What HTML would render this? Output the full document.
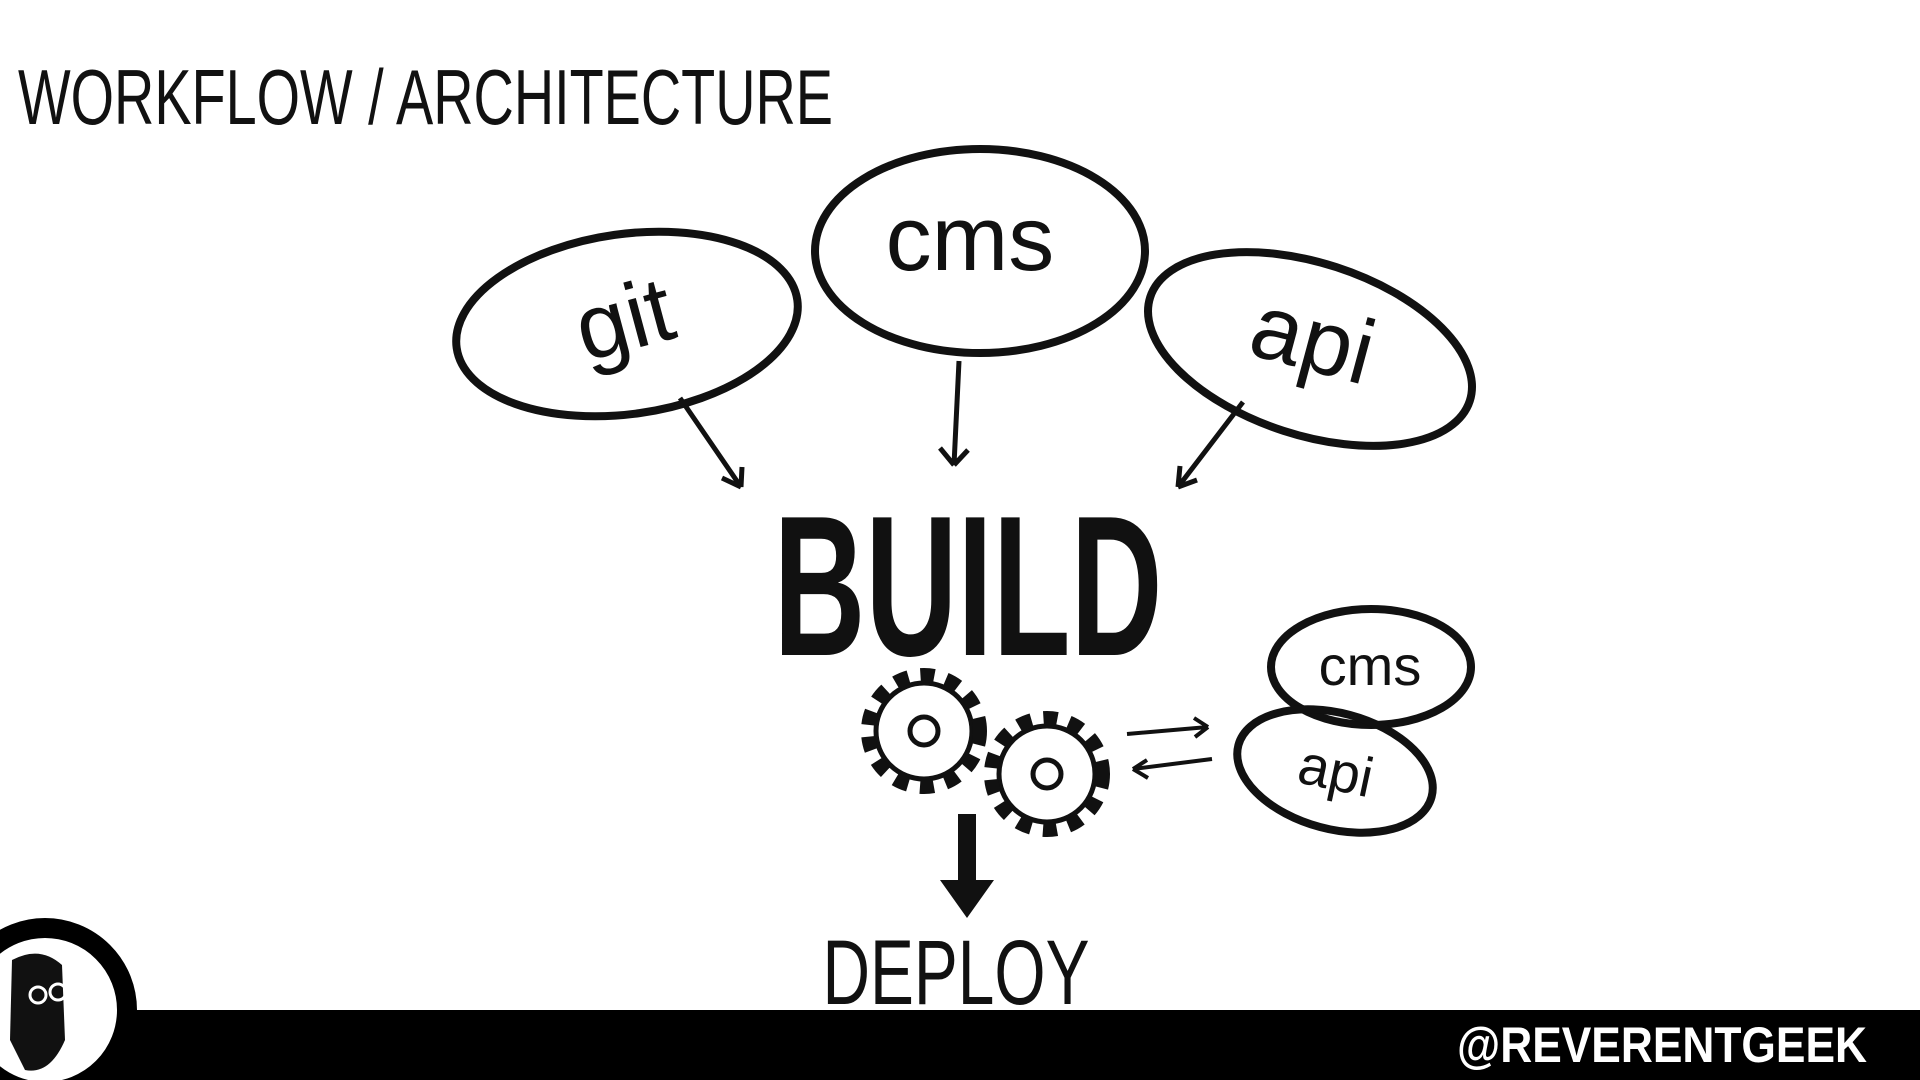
<!DOCTYPE html>
<html><head><style>
html,body{margin:0;padding:0;background:#fff;}
svg{display:block;}
text{font-family:"Liberation Sans",sans-serif;}
</style></head><body>
<svg width="1920" height="1080" viewBox="0 0 1920 1080" xmlns="http://www.w3.org/2000/svg">
<text x="18" y="124" font-size="78" fill="#111" textLength="815" lengthAdjust="spacingAndGlyphs">WORKFLOW / ARCHITECTURE</text>

<g fill="none" stroke="#111" stroke-width="8">
<ellipse cx="627" cy="324" rx="172" ry="90" transform="rotate(-8 627 324)"/>
<ellipse cx="980" cy="251" rx="165" ry="102"/>
<ellipse cx="1310" cy="349" rx="168" ry="86" transform="rotate(18 1310 349)"/>
<ellipse cx="1371" cy="667" rx="100" ry="58"/>
<ellipse cx="1335" cy="771" rx="100" ry="58" transform="rotate(15 1335 771)"/>
</g>
<text x="627" y="350" font-size="92" text-anchor="middle" fill="#111" transform="rotate(-15 627 330)">git</text>
<text x="970" y="270" font-size="92" text-anchor="middle" fill="#111">cms</text>
<text x="1310" y="370" font-size="92" text-anchor="middle" fill="#111" transform="rotate(15 1310 350)">api</text>
<text x="1370" y="685" font-size="56" text-anchor="middle" fill="#111">cms</text>
<text x="1335" y="790" font-size="56" text-anchor="middle" fill="#111" transform="rotate(12 1335 775)">api</text>

<g stroke="#111" stroke-width="5" fill="none">
<path d="M680,398 L741,487 M741,487 L722,478 M741,487 L742,467"/>
<path d="M959,361 L954,465 M954,465 L940,448 M954,465 L968,450"/>
<path d="M1243,402 L1178,487 M1178,487 L1180,466 M1178,487 L1197,480"/>
</g>
<g stroke="#111" stroke-width="4" fill="none">
<path d="M1127,734 L1208,727 M1208,727 L1194,718 M1208,727 L1195,737"/>
<path d="M1212,759 L1133,769 M1133,769 L1147,760 M1133,769 L1148,778"/>
</g>

<text x="968" y="655" font-size="200" font-weight="bold" text-anchor="middle" fill="#111" textLength="389" lengthAdjust="spacingAndGlyphs">BUILD</text>

<g fill="none" stroke="#111" stroke-width="5">
<circle cx="924" cy="731" r="48"/>
<circle cx="924" cy="731" r="56" stroke-width="14" stroke-dasharray="14 12"/>
<circle cx="924" cy="731" r="14"/>
<circle cx="1047" cy="774" r="48"/>
<circle cx="1047" cy="774" r="56" stroke-width="14" stroke-dasharray="14 12"/>
<circle cx="1047" cy="774" r="14"/>
</g>

<path d="M958,814 L976,814 L976,880 L994,880 L967,918 L940,880 L958,880 Z" fill="#111"/>
<text x="956" y="1004" font-size="92" text-anchor="middle" fill="#111" textLength="267" lengthAdjust="spacingAndGlyphs">DEPLOY</text>

<rect x="0" y="1010" width="1920" height="70" fill="#000"/>
<text x="1457" y="1062" font-size="50" font-weight="bold" fill="#fff" textLength="410" lengthAdjust="spacingAndGlyphs">@REVERENTGEEK</text>

<circle cx="45" cy="1010" r="82" fill="#fff" stroke="#000" stroke-width="20"/>
<path d="M12,960 Q40,945 62,965 L65,1040 Q50,1075 25,1070 L10,1040 Z" fill="#111"/>
<circle cx="38" cy="995" r="8" fill="none" stroke="#fff" stroke-width="3"/>
<circle cx="58" cy="992" r="8" fill="none" stroke="#fff" stroke-width="3"/>
</svg>
</body></html>
